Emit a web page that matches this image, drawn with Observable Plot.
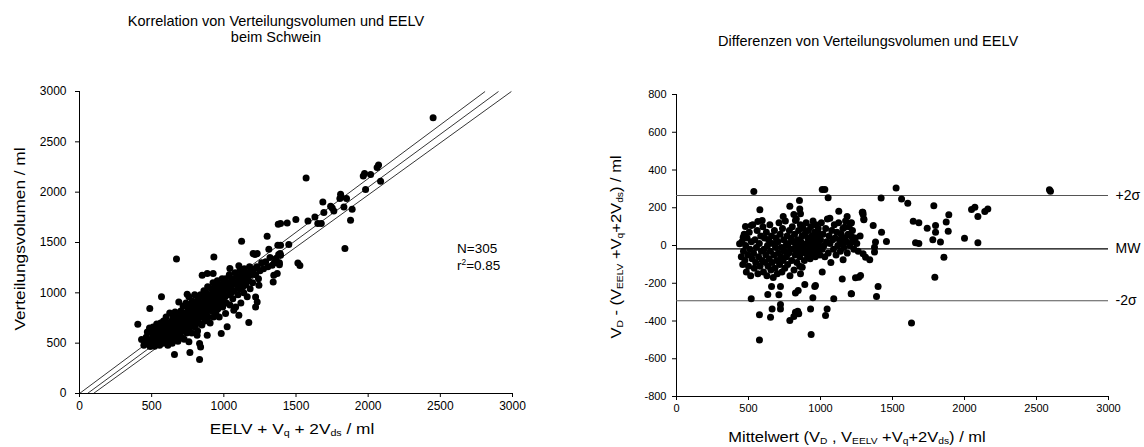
<!DOCTYPE html>
<html><head><meta charset="utf-8">
<script src="https://cdn.jsdelivr.net/npm/d3@7"></script>
<script src="https://cdn.jsdelivr.net/npm/@observablehq/plot@0.6"></script>
<style>
body{margin:0;background:#fff;font-family:"Liberation Sans",Arial,sans-serif;}
#root{position:relative;width:1144px;height:447px;overflow:hidden;background:#fff;}
#root svg{position:absolute;overflow:visible;}
.lbl{position:absolute;white-space:nowrap;color:#000;line-height:1;}
.lbl sub{font-size:62%;vertical-align:-0.3em;line-height:0;}
.lbl sup{font-size:62%;vertical-align:0.55em;line-height:0;}
</style></head><body><div id="root"></div>
<script>
// ---------- DATA ----------
const leftTitle = ["Korrelation von Verteilungsvolumen und EELV", "beim Schwein"];
const rightTitle = "Differenzen von Verteilungsvolumen und EELV";
const corrTicks = [0, 500, 1000, 1500, 2000, 2500, 3000];
const diffXTicks = [0, 500, 1000, 1500, 2000, 2500, 3000];
const diffYTicks = [-800, -600, -400, -200, 0, 200, 400, 600, 800];

// regression line and its confidence bounds (slope, intercept)
const regSlopes = [1.0676, 1.0534, 1.036];
const regIntercepts = [0, -58, -100];

// limits of agreement in the difference plot
const limitValues = [265, -18, -293];
const limitLabels = ["+2σ", "MW", "-2σ"];

// correlation scatter: [EELV + Vq + 2Vds, Verteilungsvolumen]
const corrPoints = [
[2450,2740],[1570,2140],[2072,2270],[2062,2244],[1966,2161],[1975,2185],[2017,2175],[2086,2108],[1982,2026],[1809,1979],
[1813,1952],[1804,1936],[1850,1936],[1686,1903],[1740,1860],[1751,1843],[1762,1813],[1693,1797],[1832,1853],[1889,1830],
[1878,1721],[1839,1440],[1631,1754],[1583,1714],[1651,1688],[1675,1688],[1499,1728],[1439,1694],[1393,1688],[1450,1480],
[1513,1297],[1527,1271],[1377,1681],[1300,1562],[1312,1433],[1374,1473],[1380,1380],[1385,1280],[1346,1175],[1370,1192],
[1342,1108],[1123,1512],[1203,1390],[1231,1390],[1216,1380],[931,1357],[672,1337],[850,1175],[885,1192],[926,1192],
[1042,1241],[1104,1270],[568,960],[487,844],[404,688],[430,536],[446,480],[490,470],[505,480],[525,485],
[658,387],[765,407],[832,338],[832,496],[839,463],[758,513],[815,579],[885,579],[982,596],[1023,662],
[1012,794],[1069,827],[1104,778],[1173,705],[1116,1092],[1116,1125],[1162,1132],[1220,959],[1231,910],[1220,860],
[1243,1075],[688,910],[746,986],
[455,520],[462,560],[470,610],[478,500],[485,650],[490,470],[495,540],[500,600],[505,520],[510,660],
[515,580],[520,470],[525,630],[530,540],[535,690],[540,500],[545,600],[548,560],[552,650],[555,480],
[558,620],[562,700],[565,530],[570,580],
[575,640],[578,500],[582,720],[585,560],[590,610],[594,680],[598,520],[600,760],[604,590],[608,640],
[612,480],[615,700],[618,560],[622,620],[625,800],[628,530],[632,660],[635,590],[638,720],[642,500],
[645,640],[648,760],[652,570],[655,690],[658,620],[662,810],[665,540],[668,660],[672,740],[675,600],
[678,700],[682,520],[685,780],[688,640],[692,580],[695,720],[698,660],
[702,820],[705,560],[708,690],[712,760],[715,620],[718,870],[722,700],[725,540],[728,800],[732,650],
[735,740],[738,900],[742,600],[745,780],[748,680],[752,840],[755,720],[758,960],[762,640],[765,800],
[768,880],[772,700],[775,760],[778,600],[782,920],[785,820],[788,680],[792,860],[795,740],[798,980],
[802,660],[805,800],[808,900],[812,720],[815,860],[818,620],[822,940],[825,780],[828,700],[832,880],
[835,820],[838,980],[842,760],[845,900],[848,680],
[852,840],[855,960],[858,780],[862,1020],[865,900],[868,720],[872,860],[875,1000],[878,800],[882,940],
[885,880],[888,1060],[892,760],[895,920],[898,840],[902,980],[905,700],[908,900],[912,1040],[915,820],
[918,960],[922,880],[925,1100],[928,760],[932,1000],[935,920],[938,860],[942,1060],[945,800],[948,980],
[952,900],[955,1120],[958,840],[962,1020],[965,940],[968,760],[972,1080],[975,980],[978,880],[982,1040],
[985,920],[988,1140],[992,860],[995,1000],
[1002,1080],[1008,960],[1012,1140],[1018,900],[1022,1040],[1028,1100],[1032,980],[1038,1180],[1042,880],[1048,1060],
[1052,1000],[1058,1140],[1062,940],[1068,1100],[1072,1020],[1078,1200],[1082,860],[1088,1080],[1092,1160],[1098,980],
[1102,1120],[1108,1040],[1112,1220],[1118,900],[1122,1100],[1128,1180],[1132,1060],[1138,1000],[1142,1240],[1148,1140],
[1152,1080],[1158,1200],[1162,960],[1168,1160],[1172,1120],[1178,1260],[1182,1040],[1188,1180],[1195,1220],[1200,1100],
[1210,1240],[1220,1180],[1230,1260],[1240,1140],[1250,1220],
[1262,1300],[1275,1240],[1290,1310],[1305,1260],[1320,1350],[1335,1274],[1350,1300],[1362,1340],[1393,1373],[1385,1300],
[1393,1473],[1390,1390]
];

// difference scatter: [Mittelwert, Differenz]
const diffPoints = [
[2597,288],[2590,295],[1525,304],[1421,251],[1563,247],[1606,224],[1787,210],[1294,176],[1296,164],[1301,136],
[1215,120],[1366,106],[1424,70],[1644,129],[1683,120],[1741,92],[1799,106],[1799,70],[1873,124],[1891,163],
[1887,76],[1780,30],[1833,18],[1660,14],[1683,11],[1458,21],[1382,18],[1375,-9],[1375,-35],[2000,39],
[2049,191],[2072,203],[2093,154],[2093,14],[2141,180],[2162,194],[1220,44],[1220,18],[1296,-44],[1313,-62],
[1342,-76],[1857,-62],[1278,-159],[1243,-171],[1794,-168],[1400,-217],[1389,-270],[1215,-256],[1632,-410],
[537,286],[579,189],[479,101],[463,44],[438,9],[519,106],[565,127],[595,132],[576,-500],[576,-367],
[519,-282],[653,-380],[722,-336],[634,-260],[660,-217],[722,-217],[711,-261],[722,-313],[787,-397],[826,-251],
[845,-238],[842,-348],[849,-362],[891,-207],[965,-212],[947,-277],[931,-336],[935,-472],[1035,-371],[1046,-336],
[1092,-282],[1012,-141],[856,-110],[861,-150],[787,208],[854,238],[856,194],[861,168],[815,164],[826,132],
[741,154],[1012,297],[1030,297],[1053,253],[1065,145],[1127,182],[1185,154],[1208,118],[1167,97],[1157,-76],
[1151,-177],[1213,-256],[1290,176],[1301,141],[1266,-168],[873,-115],[664,-336],[815,-376],[826,-353],[960,-217],
[450,-60],[455,20],[460,-100],[465,-30],[470,60],[475,-80],[480,0],[485,-140],[490,40],[495,-50],
[500,-110],[505,70],[510,-20],[515,-160],[520,20],[525,-70],[530,110],[535,-40],[540,-120],[545,30],
[550,-90],[555,-10],[560,80],[565,-150],[570,-60],[575,10],[580,-110],[585,50],[590,-30],[595,-80],
[600,100],[604,-140],[608,-20],[612,40],[616,-90],[620,-50],[624,70],[628,-160],[632,0],[636,-110],
[640,30],[644,-70],[648,110],[652,-30],[656,-130],[660,50],[664,-90],[668,10],[672,-170],[676,-50],
[680,80],[684,-120],[688,-10],[692,40],[696,-80],[700,-150],[704,20],[708,-40],[712,120],[716,-100],
[720,60],[724,-60],[728,-10],[732,-140],[736,90],[740,-80],[744,30],[748,-30],[752,-120],[756,130],
[760,0],[764,-60],[768,50],[772,-100],[776,10],[780,-40],[784,80],[788,-160],[792,-20],[796,40],
[800,-80],[804,100],[808,-20],[812,20],[816,-130],[820,60],[824,-50],[828,0],[832,140],[836,-90],
[840,30],[844,-30],[848,80],[852,-10],[856,-60],[860,110],[864,20],[868,-40],[872,50],[876,-20],
[880,90],[884,0],[888,-80],[892,60],[896,-30],[900,120],[904,10],[908,-50],[912,40],[916,80],
[920,-20],[924,30],[928,-70],[932,100],[936,0],[940,50],[944,-40],[948,130],[952,20],[956,-10],
[960,70],[964,-60],[968,110],[972,10],[976,40],[980,-30],[984,90],[988,0],[992,60],[996,-50],
[1000,30],[1006,120],[1012,-20],[1018,60],[1024,0],[1030,-60],[1036,90],[1042,20],[1048,140],[1054,-40],
[1060,50],[1066,10],[1072,-90],[1078,80],[1084,30],[1090,-20],[1096,110],[1102,40],[1108,-50],[1114,70],
[1120,0],[1126,120],[1132,30],[1138,-30],[1144,60],[1150,10],[1156,90],[1162,-10],[1168,40],[1174,130],
[1180,20],[1186,-40],[1192,60],[1198,100],[1204,0],[1212,50],[1222,80],[1232,-20],[1242,40],[1252,10],
[1262,-30],[1275,50]
];

// ---------- RENDER ----------
const root = document.getElementById("root");
const FONT = "Liberation Sans, Arial, sans-serif";
const fmt = d => String(d);

const regLines = regSlopes.map((m, i) => ({
  x1: (0 - regIntercepts[i]) / m, y1: 0,
  x2: (3000 - regIntercepts[i]) / m, y2: 3000
}));

const leftPlot = Plot.plot({
  width: 560, height: 387,
  marginLeft: 79, marginRight: 48, marginTop: 31, marginBottom: 54,
  style: {fontFamily: FONT, fontSize: "12px", color: "#000", background: "transparent"},
  x: {domain: [0, 3000], ticks: corrTicks, tickSize: 4, tickPadding: 4, tickFormat: fmt, label: null},
  y: {domain: [0, 3000], ticks: corrTicks, tickSize: 4, tickPadding: 9, tickFormat: fmt, label: null},
  marks: [
    Plot.ruleX([0], {stroke: "#000", strokeWidth: 1}),
    Plot.ruleY([0], {stroke: "#000", strokeWidth: 1}),
    Plot.link(regLines, {x1: "x1", y1: "y1", x2: "x2", y2: "y2", stroke: "#000", strokeWidth: 0.8}),
    Plot.dot(corrPoints, {x: d => d[0], y: d => d[1], r: 3.5, fill: "#000", stroke: "none"})
  ]
});
leftPlot.style.left = "0px"; leftPlot.style.top = "60px";
root.appendChild(leftPlot);

const limits = limitValues.map((v, i) => ({v, label: limitLabels[i]}));
const rightPlot = Plot.plot({
  width: 584, height: 387,
  marginLeft: 116, marginRight: 36, marginTop: 34, marginBottom: 51,
  style: {fontFamily: FONT, fontSize: "11px", color: "#000", background: "transparent"},
  x: {domain: [0, 3000], ticks: diffXTicks, tickSize: 4, tickPadding: 4, tickFormat: fmt, label: null},
  y: {domain: [-800, 800], ticks: diffYTicks, tickSize: 4, tickPadding: 6, tickFormat: fmt, label: null},
  marks: [
    Plot.ruleX([0], {stroke: "#000", strokeWidth: 1}),
    Plot.ruleY([-800], {stroke: "#000", strokeWidth: 1}),
    Plot.ruleY(limits, {y: "v", stroke: (d, i) => i === 1 ? "#000" : "#555", strokeWidth: 1.1}),
    Plot.text(limits, {x: 3000, y: "v", text: "label", dx: 7, textAnchor: "start", fontSize: 14, fill: "#000"}),
    Plot.dot(diffPoints, {x: d => d[0], y: d => d[1], r: 3.5, fill: "#000", stroke: "none"})
  ]
});
rightPlot.style.left = "560px"; rightPlot.style.top = "60px";
root.appendChild(rightPlot);

// ---------- TEXT LABELS ----------
function label(html, cx, cy, size, rotate, sx) {
  const d = document.createElement("div");
  d.className = "lbl";
  d.innerHTML = html;
  d.style.fontSize = size + "px";
  d.style.left = cx + "px"; d.style.top = cy + "px";
  d.style.transform = `translate(-50%,-50%)${rotate ? " rotate(-90deg)" : ""} scaleX(${sx || 1})`;
  root.appendChild(d);
  return d;
}
const t1 = label(leftTitle.join("<br>"), 276, 29, 14.5, false, 1);
t1.style.textAlign = "center"; t1.style.lineHeight = "16px";
label(rightTitle, 868, 41, 14.5, false, 1);
label("Verteilungsvolumen / ml", 18.5, 239, 15, true, 1.15);
label("EELV + V<sub>q</sub> + 2V<sub>ds</sub> / ml", 292, 428, 15, false, 1.15);
label("V<sub>D</sub> - (V<sub>EELV</sub> +V<sub>q</sub>+2V<sub>ds</sub>) / ml", 615, 247, 15, true, 1.1);
label("Mittelwert (V<sub>D</sub> , V<sub>EELV</sub> +V<sub>q</sub>+2V<sub>ds</sub>) / ml", 857, 436, 15, false, 1.1);
const nt = document.createElement("div");
nt.className = "lbl";
nt.style.left = "457px"; nt.style.top = "240px"; nt.style.fontSize = "13.5px"; nt.style.lineHeight = "17px";
nt.innerHTML = "N=305<br>r<sup>2</sup>=0.85";
root.appendChild(nt);
</script>
</body></html>
